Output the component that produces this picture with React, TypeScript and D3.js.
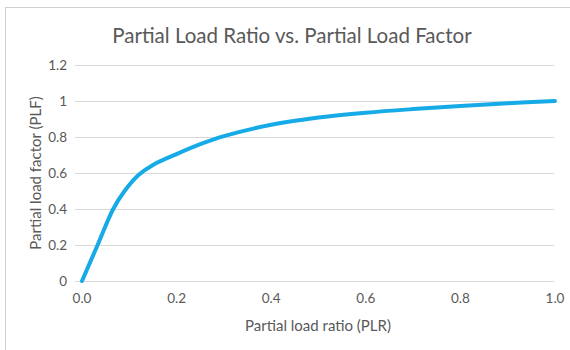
import React from "react";
import * as d3 from "d3";

const plr = [0, 0.033, 0.066, 0.09, 0.12, 0.15, 0.2, 0.25, 0.3, 0.4, 0.5, 0.6, 0.7, 0.8, 0.9, 1.0];
const plf = [0, 0.2, 0.4, 0.5, 0.59, 0.645, 0.705, 0.76, 0.805, 0.868, 0.908, 0.935, 0.955, 0.972, 0.987, 1.0];
const xTicks = [0, 0.2, 0.4, 0.6, 0.8, 1.0];
const yTicks = [0, 0.2, 0.4, 0.6, 0.8, 1, 1.2];

const W = 570, H = 350;
const FONT = "Lato, 'Open Sans', sans-serif";
const TXT = "#595959";

export default function App() {
  const x = d3.scaleLinear().domain([0, 1]).range([82, 555]);
  const y = d3.scaleLinear().domain([0, 1.2]).range([281, 65]);
  const pts = plr.map((v, i) => [v, plf[i]] as [number, number]);
  const line = d3.line<[number, number]>().x(d => x(d[0])).y(d => y(d[1])).curve(d3.curveCatmullRom.alpha(0.5));
  return (
    <svg width={W} height={H} style={{ position: "absolute", left: 0, top: 0, background: "#fff" }} fontFamily={FONT}>
      <rect x={5.5} y={7.5} width={W} height={H} fill="#fff" stroke="#d0d0d0" strokeWidth={1} />
      <text x={292} y={43} textAnchor="middle" fontSize={20.5} fill={TXT}>Partial Load Ratio vs. Partial Load Factor</text>
      {yTicks.map(t => (
        <g key={t}>
          <line x1={75} x2={554} y1={Math.round(y(t)) + 0.5} y2={Math.round(y(t)) + 0.5} stroke="#d9d9d9" strokeWidth={1} />
          <text x={67} y={y(t) + 4.5} textAnchor="end" fontSize={13.5} fill={TXT}>{d3.format("")(t)}</text>
        </g>
      ))}
      {xTicks.map(t => (
        <text key={t} x={x(t)} y={303} textAnchor="middle" fontSize={13.5} fill={TXT}>{t.toFixed(1)}</text>
      ))}
      <text x={318} y={331} textAnchor="middle" fontSize={15} fill={TXT}>Partial load ratio (PLR)</text>
      <text transform={`translate(41,173) rotate(-90)`} textAnchor="middle" fontSize={15} fill={TXT}>Partial load factor (PLF)</text>
      <path d={line(pts) || ""} fill="none" stroke="#16ABE6" strokeWidth={4} strokeLinecap="round" strokeLinejoin="round" />
    </svg>
  );
}
